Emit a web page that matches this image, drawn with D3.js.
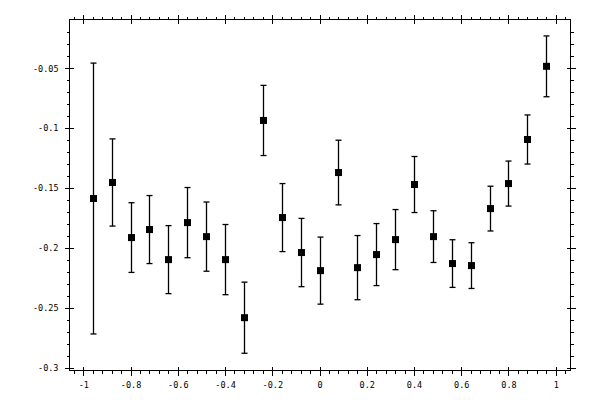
<!DOCTYPE html>
<html>
<head>
<meta charset="utf-8">
<script src="https://cdn.jsdelivr.net/npm/d3@7"></script>
<style>
  body { margin: 0; background: #fff; }
  svg { display: block; }
  .axis text { font-family: "DejaVu Sans Mono", monospace; font-size: 8.5px; fill: #000; }
  .axis line { stroke: #000; stroke-width: 1; shape-rendering: crispEdges; }
</style>
</head>
<body>
<svg id="chart"></svg>
<script>
// measured points with symmetric error bars
const xValues = [-0.96, -0.88, -0.80, -0.72, -0.64, -0.56, -0.48, -0.40, -0.32, -0.24, -0.16, -0.08, 0,
                 0.08, 0.16, 0.24, 0.32, 0.40, 0.48, 0.56, 0.64, 0.72, 0.80, 0.88, 0.96];
const yValues = [-0.1587, -0.1453, -0.1913, -0.1846, -0.2097, -0.1788, -0.1905, -0.2097, -0.2582, -0.0935,
                 -0.1746, -0.2038, -0.2189, -0.1370, -0.2164, -0.2055, -0.1930, -0.1470, -0.1905, -0.2130,
                 -0.2147, -0.1671, -0.1462, -0.1094, -0.0483];
const yErrors = [0.1131, 0.0364, 0.0291, 0.0284, 0.0284, 0.0293, 0.0289, 0.0293, 0.0297, 0.0293,
                 0.0284, 0.0285, 0.0280, 0.0270, 0.0268, 0.0259, 0.0251, 0.0234, 0.0216, 0.0199,
                 0.0191, 0.0187, 0.0188, 0.0205, 0.0254];

const xMajorTicks = [-1, -0.8, -0.6, -0.4, -0.2, 0, 0.2, 0.4, 0.6, 0.8, 1];
const xTickLabels = ["-1", "-0.8", "-0.6", "-0.4", "-0.2", "0", "0.2", "0.4", "0.6", "0.8", "1"];
const yMajorTicks = [-0.3, -0.25, -0.2, -0.15, -0.1, -0.05];
const yTickLabels = ["-0.3", "-0.25", "-0.2", "-0.15", "-0.1", "-0.05"];
const xMinorTicks = d3.range(-26, 27).map(i => i * 0.04);
const yMinorTicks = d3.range(-30, 0).map(i => i * 0.01);

const width = 600, height = 400;
const frame = { left: 69.5, right: 570.5, top: 19.5, bottom: 370.5 };

const data = xValues.map((x, i) => ({ x: x, y: yValues[i], e: yErrors[i] }));

const svg = d3.select("#chart").attr("width", width).attr("height", height);

const xScale = d3.scaleLinear().domain([-1.0585, 1.0625]).range([frame.left, frame.right]);
const yScale = d3.scaleLinear().domain([-0.3023, -0.0092]).range([frame.bottom, frame.top]);

svg.append("rect")
    .attr("x", frame.left).attr("y", frame.top)
    .attr("width", frame.right - frame.left).attr("height", frame.bottom - frame.top)
    .attr("fill", "none").attr("stroke", "#000").attr("shape-rendering", "crispEdges");

// minor ticks point outward, major ticks cross the frame
function drawAxis(axisFn, scale, pos, transform, major, minor, labels) {
    const g = svg.append("g").attr("class", "axis").attr("transform", transform);
    g.append("g").call(axisFn(scale).tickValues(minor.filter(v => scale(v) > frame.left - 0.1 && scale(v) < frame.right + 0.1 || axisFn === d3.axisLeft || axisFn === d3.axisRight))
        .tickSize(3).tickFormat(""));
    const m = g.append("g").call(axisFn(scale).tickValues(major).tickSize(5).tickPadding(6)
        .tickFormat((d, i) => labels ? labels[i] : ""));
    g.selectAll(".domain").remove();
    if (pos === "bottom") m.selectAll("line").attr("y1", -4);
    if (pos === "top") m.selectAll("line").attr("y1", 4);
    if (pos === "left") m.selectAll("line").attr("x1", 4);
    if (pos === "right") m.selectAll("line").attr("x1", -4);
    return g;
}

const xMinorIn = xMinorTicks.filter(v => xScale(v) > frame.left + 1 && xScale(v) < frame.right - 1);
const yMinorIn = yMinorTicks.filter(v => yScale(v) > frame.top + 1 && yScale(v) < frame.bottom - 1);

drawAxis(d3.axisBottom, xScale, "bottom", `translate(0,${frame.bottom})`, xMajorTicks, xMinorIn, xTickLabels);
drawAxis(d3.axisTop, xScale, "top", `translate(0,${frame.top})`, xMajorTicks, xMinorIn, null);
drawAxis(d3.axisLeft, yScale, "left", `translate(${frame.left},0)`, yMajorTicks, yMinorIn, yTickLabels);
drawAxis(d3.axisRight, yScale, "right", `translate(${frame.right},0)`, yMajorTicks, yMinorIn, null);

const points = svg.append("g");

points.selectAll(".bar")
    .data(data)
    .join("line")
    .attr("x1", d => Math.round(xScale(d.x)) + 0.5)
    .attr("x2", d => Math.round(xScale(d.x)) + 0.5)
    .attr("y1", d => yScale(d.y + d.e))
    .attr("y2", d => yScale(d.y - d.e))
    .attr("stroke", "#000").attr("stroke-width", 1.3);

points.selectAll(".cap")
    .data(data.flatMap(d => [d.y + d.e, d.y - d.e].map(v => ({ x: d.x, v: v }))))
    .join("line")
    .attr("x1", d => Math.round(xScale(d.x)) + 0.5 - 3)
    .attr("x2", d => Math.round(xScale(d.x)) + 0.5 + 3)
    .attr("y1", d => yScale(d.v))
    .attr("y2", d => yScale(d.v))
    .attr("stroke", "#000").attr("stroke-width", 1.3);

points.selectAll("rect")
    .data(data)
    .join("rect")
    .attr("x", d => Math.round(xScale(d.x)) + 0.5 - 3.5)
    .attr("y", d => yScale(d.y) - 3.5)
    .attr("width", 7)
    .attr("height", 7)
    .attr("fill", "#000");
</script>
</body>
</html>
